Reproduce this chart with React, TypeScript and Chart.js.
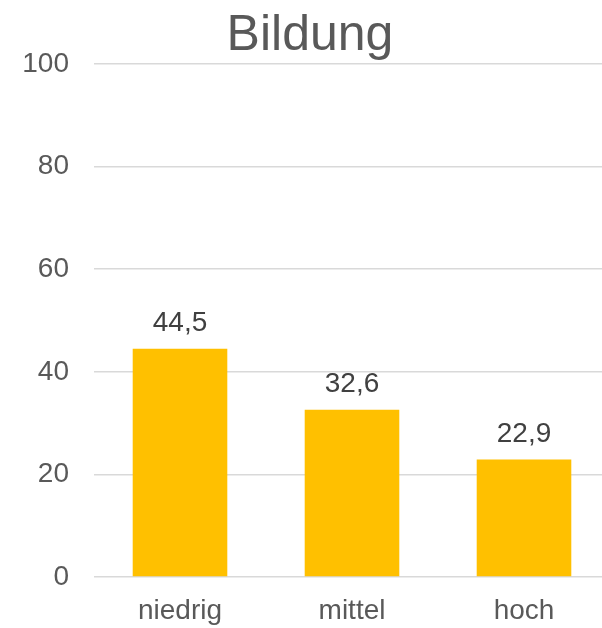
import React, { useEffect, useRef } from "react";
import { Chart, registerables } from "chart.js";

Chart.register(...registerables);

const title = "Bildung";
const categories = ["niedrig", "mittel", "hoch"];
const values = [44.5, 32.6, 22.9];
const yTicks = [0, 20, 40, 60, 80, 100];

const FONT = '"Liberation Sans", Arial, sans-serif';

export default function App() {
  const ref = useRef<HTMLCanvasElement | null>(null);

  useEffect(() => {
    if (!ref.current) return;
    const titlePlugin = {
      id: "customTitle",
      afterDraw(chart: any) {
        const ctx = chart.ctx;
        ctx.save();
        ctx.font = `50px ${FONT}`;
        ctx.fillStyle = "#595959";
        ctx.textAlign = "center";
        ctx.textBaseline = "alphabetic";
        ctx.fillText(title, 310, 49.5);
        ctx.restore();
      },
    };
    const labelPlugin = {
      id: "valueLabels",
      afterDatasetsDraw(chart: any) {
        const ctx = chart.ctx;
        const meta = chart.getDatasetMeta(0);
        ctx.save();
        ctx.font = `28px ${FONT}`;
        ctx.fillStyle = "#404040";
        ctx.textAlign = "center";
        ctx.textBaseline = "alphabetic";
        meta.data.forEach((bar: any, i: number) => {
          const v = chart.data.datasets[0].data[i] as number;
          ctx.fillText(v.toFixed(1).replace(".", ","), bar.x, bar.y - 17.5);
        });
        ctx.restore();
      },
    };
    const chart = new Chart(ref.current, {
      type: "bar",
      data: {
        labels: categories,
        datasets: [
          {
            data: values,
            backgroundColor: "#FFC000",
            borderWidth: 0,
            barPercentage: 0.55,
            categoryPercentage: 1,
          },
        ],
      },
      options: {
        responsive: false,
        animation: false,
        devicePixelRatio: 1,
        layout: { padding: { top: 64, left: 0, right: 0, bottom: 0 } },
        plugins: {
          legend: { display: false },
          title: { display: false },
          tooltip: { enabled: false },
        },
        scales: {
          x: {
            grid: { display: false, drawTicks: false },
            border: { display: false },
            ticks: {
              color: "#595959",
              font: { family: FONT, size: 28 },
              padding: 17,
            },
            afterFit: (s: any) => {
              s.height = 51;
            },
          },
          y: {
            min: 0,
            max: 100,
            afterBuildTicks: (s: any) => {
              s.ticks = yTicks.map((v) => ({ value: v }));
            },
            grid: { color: "#d9d9d9", lineWidth: 1.5, drawTicks: false },
            border: { display: false },
            ticks: {
              color: "#595959",
              font: { family: FONT, size: 28 },
              padding: 25,
            },
            afterFit: (s: any) => {
              s.width = 94;
            },
          },
        },
      },
      plugins: [titlePlugin, labelPlugin],
    });
    return () => chart.destroy();
  }, []);

  return (
    <div
      style={{
        position: "fixed",
        left: 0,
        top: 0,
        width: 602,
        height: 628,
        overflow: "hidden",
        background: "#ffffff",
      }}
    >
      <canvas ref={ref} width={610} height={628} style={{ display: "block" }} />
    </div>
  );
}
